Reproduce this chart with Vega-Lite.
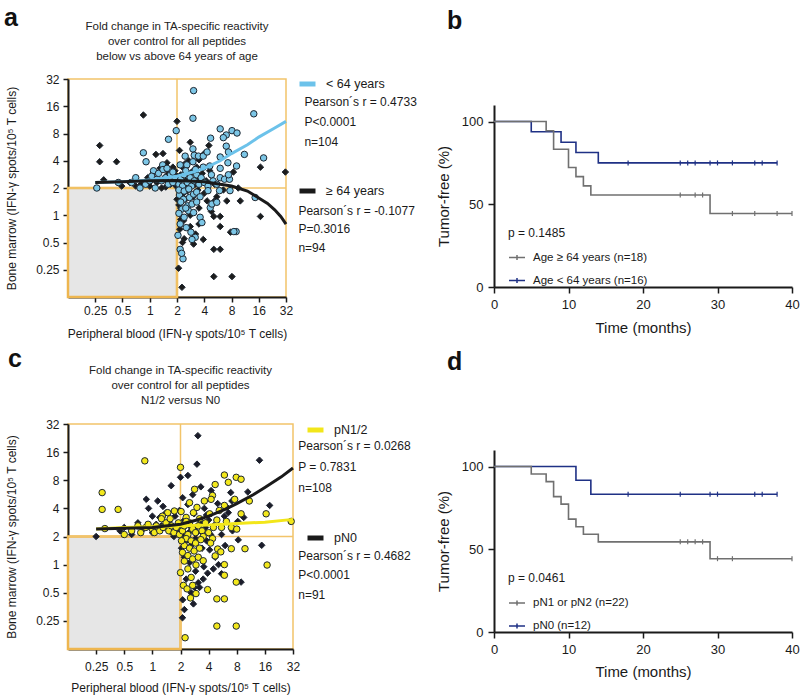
{
"$schema": "https://vega.github.io/schema/vega-lite/v6.json",
"autosize": {"type": "none"},
"padding": {"left": 68, "top": 79, "right": 732, "bottom": 618},
"background": "#ffffff",
"config": {
  "font": "Liberation Sans",
  "view": {"stroke": null},
  "axis": {"grid": false, "domainColor": "#1a1a1a", "domainWidth": 2, "tickColor": "#1a1a1a", "tickWidth": 1.5, "tickSize": 5, "labelColor": "#1a1a1a", "titleColor": "#1a1a1a", "titleFontWeight": "normal", "labelFlush": false, "labelOverlap": false, "zindex": 1},
  "title": {"fontSize": 11.5, "fontWeight": "normal", "color": "#222222", "lineHeight": 15, "anchor": "middle", "frame": "group"},
  "legend": {"labelColor": "#1a1a1a", "titleColor": "#1a1a1a", "padding": 0}
},
"datasets": {
  "aPts": [
{"g":"A","x":0.28,"y":5.9},{"g":"A","x":0.28,"y":3.9},{"g":"A","x":0.43,"y":3.9},{"g":"A","x":0.85,"y":12.8},{"g":"A","x":2.0,"y":10.9},{"g":"A","x":1.17,"y":4.7},{"g":"A","x":1.55,"y":3.8},{"g":"A","x":0.31,"y":2.46},{"g":"A","x":0.49,"y":2.1},{"g":"A","x":2.13,"y":5.2},
{"g":"A","x":2.8,"y":6.4},{"g":"A","x":4.5,"y":5.9},{"g":"A","x":8.4,"y":3.0},{"g":"A","x":16.7,"y":3.4},{"g":"A","x":31.5,"y":3.0},{"g":"A","x":10,"y":1.44},{"g":"A","x":16.7,"y":0.97},{"g":"A","x":5.1,"y":0.97},{"g":"A","x":6.0,"y":0.97},{"g":"A","x":6.0,"y":0.75},
{"g":"A","x":7.1,"y":1.44},{"g":"A","x":7.8,"y":0.65},{"g":"A","x":5.1,"y":0.42},{"g":"A","x":6.0,"y":0.42},{"g":"A","x":5.1,"y":0.21},{"g":"A","x":8.1,"y":0.21},{"g":"A","x":2.27,"y":0.16},{"g":"A","x":2.08,"y":0.26},{"g":"A","x":3.05,"y":0.48},{"g":"A","x":3.9,"y":0.54},
{"g":"A","x":3.5,"y":0.8},{"g":"A","x":4.3,"y":1.44},{"g":"A","x":5.2,"y":1.44},{"g":"A","x":2.36,"y":0.87},{"g":"A","x":3.2,"y":0.62},{"g":"A","x":0.8,"y":2.2},{"g":"A","x":1.0,"y":2.1},{"g":"A","x":1.2,"y":2.3},{"g":"A","x":1.3,"y":3.3},{"g":"A","x":1.45,"y":2.6},
{"g":"A","x":1.6,"y":2.9},{"g":"A","x":1.7,"y":2.2},{"g":"A","x":1.8,"y":3.4},{"g":"A","x":1.9,"y":2.4},{"g":"A","x":1.95,"y":2.1},{"g":"A","x":1.5,"y":2.05},{"g":"A","x":2.05,"y":2.3},{"g":"A","x":2.2,"y":2.8},{"g":"A","x":2.3,"y":3.4},{"g":"A","x":2.5,"y":2.4},
{"g":"A","x":2.7,"y":2.1},{"g":"A","x":2.9,"y":3.0},{"g":"A","x":3.2,"y":2.2},{"g":"A","x":3.4,"y":2.6},{"g":"A","x":3.8,"y":2.9},{"g":"A","x":4.2,"y":2.4},{"g":"A","x":4.6,"y":3.1},{"g":"A","x":5.2,"y":2.2},{"g":"A","x":2.1,"y":1.9},{"g":"A","x":2.3,"y":1.7},
{"g":"A","x":2.6,"y":1.85},{"g":"A","x":3.0,"y":1.6},{"g":"A","x":2.2,"y":1.2},{"g":"A","x":2.5,"y":1.5},{"g":"A","x":2.8,"y":1.0},{"g":"A","x":3.4,"y":1.9},{"g":"A","x":4.0,"y":1.75},{"g":"A","x":2.15,"y":0.7},{"g":"A","x":2.4,"y":0.55},{"g":"A","x":3.5,"y":1.2},
{"g":"A","x":1.1,"y":3.0},{"g":"A","x":0.95,"y":2.6},{"g":"A","x":3.5,"y":4.1},{"g":"A","x":4.0,"y":4.8},{"g":"A","x":2.7,"y":4.0},{"g":"A","x":1.4,"y":4.8},{"g":"A","x":0.6,"y":2.3},{"g":"A","x":0.7,"y":2.1},{"g":"A","x":1.35,"y":2.0},{"g":"A","x":2.0,"y":2.7},
{"g":"A","x":2.45,"y":3.7},{"g":"A","x":3.3,"y":3.4},{"g":"A","x":5.5,"y":1.6},{"g":"A","x":6.5,"y":1.9},{"g":"A","x":9.5,"y":2.0},{"g":"A","x":2.0,"y":1.5},{"g":"A","x":2.1,"y":1.3},{"g":"A","x":2.2,"y":0.9},{"g":"A","x":2.3,"y":0.5},{"g":"A","x":2.8,"y":0.75},
{"g":"A","x":4.8,"y":1.1},{"g":"A","x":1.9,"y":3.1},{"g":"A","x":2.6,"y":2.0},{"g":"A","x":1.15,"y":2.5},
{"g":"B","x":3.05,"y":23.8},{"g":"B","x":3.0,"y":11.8},{"g":"B","x":14.1,"y":13.2},{"g":"B","x":1.96,"y":8.6},{"g":"B","x":1.61,"y":6.9},{"g":"B","x":6.0,"y":9.0},{"g":"B","x":7.0,"y":7.7},{"g":"B","x":8.1,"y":8.6},{"g":"B","x":9.2,"y":8.1},{"g":"B","x":6.5,"y":7.2},
{"g":"B","x":4.7,"y":7.1},{"g":"B","x":7.0,"y":5.8},{"g":"B","x":7.4,"y":5.0},{"g":"B","x":6.0,"y":4.4},{"g":"B","x":7.3,"y":3.8},{"g":"B","x":6.0,"y":3.3},{"g":"B","x":9.1,"y":3.5},{"g":"B","x":11.1,"y":4.7},{"g":"B","x":18.1,"y":4.3},{"g":"B","x":3.0,"y":5.4},
{"g":"B","x":3.1,"y":4.6},{"g":"B","x":2.46,"y":4.5},{"g":"B","x":3.45,"y":4.5},{"g":"B","x":3.9,"y":4.5},{"g":"B","x":4.3,"y":5.0},{"g":"B","x":3.0,"y":3.9},{"g":"B","x":2.57,"y":3.6},{"g":"B","x":3.9,"y":3.4},{"g":"B","x":4.6,"y":3.5},{"g":"B","x":6.0,"y":2.6},
{"g":"B","x":6.7,"y":2.5},{"g":"B","x":7.6,"y":2.5},{"g":"B","x":7.4,"y":2.8},{"g":"B","x":0.85,"y":4.9},{"g":"B","x":0.91,"y":3.9},{"g":"B","x":1.39,"y":3.6},{"g":"B","x":1.1,"y":3.1},{"g":"B","x":2.17,"y":3.6},{"g":"B","x":0.26,"y":2.0},{"g":"B","x":0.45,"y":2.3},
{"g":"B","x":0.63,"y":2.3},{"g":"B","x":0.78,"y":2.0},{"g":"B","x":0.9,"y":2.2},{"g":"B","x":1.0,"y":2.4},{"g":"B","x":1.05,"y":2.7},{"g":"B","x":1.2,"y":2.5},{"g":"B","x":1.25,"y":2.9},{"g":"B","x":1.35,"y":2.4},{"g":"B","x":1.5,"y":2.6},{"g":"B","x":1.6,"y":2.2},
{"g":"B","x":1.7,"y":2.8},{"g":"B","x":1.8,"y":2.3},{"g":"B","x":1.9,"y":2.6},{"g":"B","x":1.4,"y":3.2},{"g":"B","x":0.7,"y":2.6},{"g":"B","x":1.15,"y":2.0},{"g":"B","x":1.55,"y":3.3},{"g":"B","x":1.8,"y":3.0},{"g":"B","x":2.1,"y":2.2},{"g":"B","x":2.2,"y":2.5},
{"g":"B","x":2.3,"y":2.1},{"g":"B","x":2.4,"y":2.8},{"g":"B","x":2.6,"y":2.3},{"g":"B","x":2.8,"y":2.6},{"g":"B","x":2.9,"y":2.1},{"g":"B","x":3.1,"y":2.4},{"g":"B","x":3.3,"y":2.8},{"g":"B","x":3.5,"y":2.2},{"g":"B","x":3.7,"y":2.6},{"g":"B","x":4.0,"y":2.3},
{"g":"B","x":4.4,"y":2.1},{"g":"B","x":5.0,"y":2.4},{"g":"B","x":5.5,"y":2.2},{"g":"B","x":4.8,"y":2.8},{"g":"B","x":2.5,"y":3.1},{"g":"B","x":3.2,"y":3.2},{"g":"B","x":2.13,"y":1.67},{"g":"B","x":2.36,"y":1.5},{"g":"B","x":2.75,"y":1.57},{"g":"B","x":3.05,"y":1.71},
{"g":"B","x":2.62,"y":1.27},{"g":"B","x":2.93,"y":1.33},{"g":"B","x":2.27,"y":1.17},{"g":"B","x":2.68,"y":1.12},{"g":"B","x":3.05,"y":1.07},{"g":"B","x":3.6,"y":0.95},{"g":"B","x":3.77,"y":0.83},{"g":"B","x":2.17,"y":0.8},{"g":"B","x":2.53,"y":0.73},{"g":"B","x":2.85,"y":0.65},
{"g":"B","x":3.18,"y":0.57},{"g":"B","x":2.93,"y":0.54},{"g":"B","x":2.17,"y":0.42},{"g":"B","x":2.33,"y":0.33},{"g":"B","x":4.66,"y":1.21},{"g":"B","x":4.86,"y":1.33},{"g":"B","x":5.5,"y":1.39},{"g":"B","x":9.0,"y":0.66},{"g":"B","x":8.5,"y":0.66},{"g":"B","x":14.6,"y":1.57},
{"g":"B","x":4.4,"y":1.87},{"g":"B","x":5.9,"y":1.87},{"g":"B","x":7.7,"y":1.87},{"g":"B","x":2.1,"y":1.9},{"g":"B","x":2.4,"y":1.85},{"g":"B","x":2.7,"y":1.95},{"g":"B","x":3.3,"y":1.8},{"g":"B","x":3.6,"y":1.6},{"g":"B","x":2.2,"y":1.4},{"g":"B","x":2.5,"y":1.2},
{"g":"B","x":2.1,"y":1.05},{"g":"B","x":2.4,"y":0.95},{"g":"B","x":3.3,"y":1.4},{"g":"B","x":2.05,"y":0.6},{"g":"B","x":2.25,"y":0.38}
  ],
  "aFit": [
{"g":"< 64 years","x":0.25,"y":2.3},{"g":"< 64 years","x":0.5,"y":2.35},{"g":"< 64 years","x":1,"y":2.45},{"g":"< 64 years","x":2,"y":2.7},{"g":"< 64 years","x":3,"y":3.0},{"g":"< 64 years","x":4,"y":3.3},{"g":"< 64 years","x":6,"y":4.0},{"g":"< 64 years","x":8,"y":4.8},{"g":"< 64 years","x":12,"y":6.0},{"g":"< 64 years","x":16,"y":7.3},{"g":"< 64 years","x":24,"y":9.2},{"g":"< 64 years","x":32,"y":10.9},
{"g":"≥ 64 years","x":0.25,"y":2.3},{"g":"≥ 64 years","x":0.5,"y":2.35},{"g":"≥ 64 years","x":1,"y":2.4},{"g":"≥ 64 years","x":2,"y":2.42},{"g":"≥ 64 years","x":4,"y":2.35},{"g":"≥ 64 years","x":6,"y":2.2},{"g":"≥ 64 years","x":8,"y":2.1},{"g":"≥ 64 years","x":12,"y":1.85},{"g":"≥ 64 years","x":16,"y":1.55},{"g":"≥ 64 years","x":20,"y":1.35},{"g":"≥ 64 years","x":24,"y":1.15},{"g":"≥ 64 years","x":28,"y":0.97},{"g":"≥ 64 years","x":32,"y":0.8}
  ],
  "cPts": [
{"g":"N0","x":3.07,"y":24},{"g":"N0","x":3.0,"y":11.9},{"g":"N0","x":14.0,"y":13.1},{"g":"N0","x":2.0,"y":8.6},{"g":"N0","x":1.59,"y":7.0},{"g":"N0","x":0.86,"y":5.0},{"g":"N0","x":1.14,"y":4.8},{"g":"N0","x":0.91,"y":4.0},{"g":"N0","x":2.11,"y":5.2},{"g":"N0","x":4.25,"y":6.2},
{"g":"N0","x":6.9,"y":5.9},{"g":"N0","x":7.1,"y":4.8},{"g":"N0","x":5.9,"y":3.3},{"g":"N0","x":8.2,"y":2.9},{"g":"N0","x":18,"y":4.3},{"g":"N0","x":0.5,"y":2.5},{"g":"N0","x":0.25,"y":2.0},{"g":"N0","x":8.3,"y":1.84},{"g":"N0","x":14.8,"y":1.61},{"g":"N0","x":4.1,"y":1.44},
{"g":"N0","x":3.55,"y":0.95},{"g":"N0","x":3.9,"y":0.81},{"g":"N0","x":5.1,"y":1.0},{"g":"N0","x":8.9,"y":0.65},{"g":"N0","x":3.1,"y":0.64},{"g":"N0","x":2.82,"y":0.57},{"g":"N0","x":3.2,"y":0.57},{"g":"N0","x":2.11,"y":0.42},{"g":"N0","x":2.2,"y":0.33},{"g":"N0","x":2.1,"y":0.27},
{"g":"N0","x":0.45,"y":2.3},{"g":"N0","x":0.6,"y":2.1},{"g":"N0","x":0.8,"y":2.4},{"g":"N0","x":1.0,"y":2.2},{"g":"N0","x":1.1,"y":2.7},{"g":"N0","x":1.2,"y":3.2},{"g":"N0","x":1.35,"y":2.5},{"g":"N0","x":1.5,"y":2.9},{"g":"N0","x":1.6,"y":2.2},{"g":"N0","x":1.75,"y":3.3},
{"g":"N0","x":1.85,"y":2.6},{"g":"N0","x":1.95,"y":3.8},{"g":"N0","x":2.05,"y":2.4},{"g":"N0","x":2.2,"y":3.0},{"g":"N0","x":2.4,"y":4.4},{"g":"N0","x":2.6,"y":2.5},{"g":"N0","x":2.8,"y":3.5},{"g":"N0","x":3.0,"y":2.2},{"g":"N0","x":3.3,"y":2.8},{"g":"N0","x":3.6,"y":4.0},
{"g":"N0","x":4.0,"y":3.0},{"g":"N0","x":4.5,"y":2.6},{"g":"N0","x":5.0,"y":4.5},{"g":"N0","x":5.5,"y":2.1},{"g":"N0","x":6.5,"y":3.6},{"g":"N0","x":2.3,"y":1.8},{"g":"N0","x":2.6,"y":1.6},{"g":"N0","x":2.9,"y":1.9},{"g":"N0","x":3.4,"y":1.5},{"g":"N0","x":2.2,"y":1.2},
{"g":"N0","x":2.5,"y":1.05},{"g":"N0","x":2.9,"y":0.85},{"g":"N0","x":2.3,"y":0.7},{"g":"N0","x":2.6,"y":0.5},{"g":"N0","x":4.5,"y":0.9},{"g":"N0","x":3.8,"y":1.8},{"g":"N0","x":2.05,"y":1.5},{"g":"N0","x":1.4,"y":3.6},{"g":"N0","x":1.0,"y":3.3},{"g":"N0","x":0.7,"y":2.8},
{"g":"N0","x":1.3,"y":4.2},{"g":"N0","x":2.7,"y":5.6},{"g":"N0","x":3.3,"y":6.8},{"g":"N0","x":4.7,"y":1.2},{"g":"N0","x":6.0,"y":1.6},{"g":"N0","x":7.2,"y":2.3},{"g":"N0","x":9.5,"y":3.2},{"g":"N0","x":2.15,"y":2.0},{"g":"N0","x":2.45,"y":2.2},{"g":"N0","x":3.7,"y":2.5},
{"g":"N0","x":4.2,"y":2.1},{"g":"N0","x":1.7,"y":2.0},{"g":"N0","x":1.9,"y":2.3},{"g":"N0","x":2.75,"y":0.38},{"g":"N0","x":3.5,"y":0.7},{"g":"N0","x":5.5,"y":0.8},{"g":"N0","x":6.3,"y":4.1},{"g":"N0","x":10.5,"y":6.0},{"g":"N0","x":2.4,"y":9.0},{"g":"N0","x":3.8,"y":3.4},
{"g":"N0","x":1.25,"y":2.6},
{"g":"N1","x":0.83,"y":12.9},{"g":"N1","x":2.0,"y":11},{"g":"N1","x":5.9,"y":9.1},{"g":"N1","x":6.5,"y":7.6},{"g":"N1","x":7.9,"y":8.6},{"g":"N1","x":8.9,"y":8.2},{"g":"N1","x":4.7,"y":7.2},{"g":"N1","x":2.83,"y":6.4},{"g":"N1","x":4.4,"y":5.5},{"g":"N1","x":2.5,"y":4.6},
{"g":"N1","x":3.6,"y":4.8},{"g":"N1","x":4.25,"y":5.0},{"g":"N1","x":5.9,"y":4.3},{"g":"N1","x":7.6,"y":5.0},{"g":"N1","x":10.9,"y":4.8},{"g":"N1","x":16.5,"y":3.5},{"g":"N1","x":30.6,"y":2.9},{"g":"N1","x":8.9,"y":3.5},{"g":"N1","x":4.1,"y":3.5},{"g":"N1","x":2.75,"y":3.6},
{"g":"N1","x":2.03,"y":3.7},{"g":"N1","x":1.72,"y":3.75},{"g":"N1","x":1.46,"y":3.6},{"g":"N1","x":1.28,"y":3.3},{"g":"N1","x":7.0,"y":2.5},{"g":"N1","x":0.29,"y":5.9},{"g":"N1","x":0.29,"y":3.9},{"g":"N1","x":0.43,"y":3.9},{"g":"N1","x":0.31,"y":2.43},{"g":"N1","x":2.3,"y":3.2},
{"g":"N1","x":3.2,"y":3.1},{"g":"N1","x":4.9,"y":3.0},{"g":"N1","x":6.2,"y":2.9},{"g":"N1","x":5.5,"y":2.5},{"g":"N1","x":8.0,"y":2.4},{"g":"N1","x":3.0,"y":4.1},{"g":"N1","x":5.2,"y":3.8},{"g":"N1","x":0.5,"y":2.1},{"g":"N1","x":0.6,"y":2.3},{"g":"N1","x":0.75,"y":2.2},
{"g":"N1","x":0.85,"y":2.5},{"g":"N1","x":0.9,"y":2.7},{"g":"N1","x":1.0,"y":2.4},{"g":"N1","x":1.05,"y":2.2},{"g":"N1","x":1.1,"y":2.6},{"g":"N1","x":1.2,"y":2.3},{"g":"N1","x":1.3,"y":2.5},{"g":"N1","x":1.4,"y":2.8},{"g":"N1","x":1.5,"y":2.3},{"g":"N1","x":1.6,"y":2.6},
{"g":"N1","x":1.7,"y":2.2},{"g":"N1","x":1.8,"y":2.5},{"g":"N1","x":1.9,"y":2.8},{"g":"N1","x":1.95,"y":2.1},{"g":"N1","x":1.25,"y":3.1},{"g":"N1","x":1.55,"y":3.1},{"g":"N1","x":0.7,"y":2.6},{"g":"N1","x":2.1,"y":2.3},{"g":"N1","x":2.2,"y":2.6},{"g":"N1","x":2.4,"y":2.1},
{"g":"N1","x":2.5,"y":2.8},{"g":"N1","x":2.7,"y":2.4},{"g":"N1","x":2.9,"y":2.2},{"g":"N1","x":3.1,"y":2.6},{"g":"N1","x":3.4,"y":2.3},{"g":"N1","x":3.7,"y":2.8},{"g":"N1","x":4.0,"y":2.2},{"g":"N1","x":4.5,"y":2.5},{"g":"N1","x":2.3,"y":2.9},{"g":"N1","x":3.5,"y":2.0},
{"g":"N1","x":4.4,"y":1.9},{"g":"N1","x":7.0,"y":1.48},{"g":"N1","x":9.8,"y":1.48},{"g":"N1","x":16.9,"y":0.99},{"g":"N1","x":5.0,"y":1.47},{"g":"N1","x":5.4,"y":1.37},{"g":"N1","x":4.7,"y":1.24},{"g":"N1","x":5.9,"y":1.0},{"g":"N1","x":5.9,"y":0.77},{"g":"N1","x":7.9,"y":0.65},
{"g":"N1","x":3.9,"y":0.54},{"g":"N1","x":4.9,"y":0.43},{"g":"N1","x":5.9,"y":0.43},{"g":"N1","x":4.9,"y":0.22},{"g":"N1","x":7.9,"y":0.22},{"g":"N1","x":2.24,"y":0.165},{"g":"N1","x":2.56,"y":0.44},{"g":"N1","x":2.93,"y":0.49},{"g":"N1","x":2.6,"y":0.73},{"g":"N1","x":2.4,"y":0.9},
{"g":"N1","x":2.0,"y":0.82},{"g":"N1","x":2.2,"y":1.09},{"g":"N1","x":2.93,"y":0.99},{"g":"N1","x":2.3,"y":1.9},{"g":"N1","x":2.6,"y":1.8},{"g":"N1","x":2.9,"y":1.7},{"g":"N1","x":3.3,"y":1.85},{"g":"N1","x":2.2,"y":1.6},{"g":"N1","x":2.5,"y":1.5},{"g":"N1","x":2.8,"y":1.4},
{"g":"N1","x":3.2,"y":1.5},{"g":"N1","x":2.1,"y":1.35},{"g":"N1","x":2.4,"y":1.25},{"g":"N1","x":2.7,"y":1.15},{"g":"N1","x":3.1,"y":1.2},{"g":"N1","x":2.15,"y":0.6},{"g":"N1","x":2.35,"y":0.55},{"g":"N1","x":2.7,"y":0.6},{"g":"N1","x":3.5,"y":1.1},{"g":"N1","x":2.05,"y":1.8},
{"g":"N1","x":4.2,"y":1.7}
  ],
  "cFit": [
{"g":"pN1/2","x":0.25,"y":2.4},{"g":"pN1/2","x":0.5,"y":2.5},{"g":"pN1/2","x":1,"y":2.55},{"g":"pN1/2","x":2,"y":2.6},{"g":"pN1/2","x":4,"y":2.65},{"g":"pN1/2","x":8,"y":2.75},{"g":"pN1/2","x":16,"y":2.85},{"g":"pN1/2","x":32,"y":3.05},
{"g":"pN0","x":0.25,"y":2.4},{"g":"pN0","x":0.5,"y":2.45},{"g":"pN0","x":1,"y":2.5},{"g":"pN0","x":2,"y":2.7},{"g":"pN0","x":3,"y":3.0},{"g":"pN0","x":4,"y":3.3},{"g":"pN0","x":6,"y":3.9},{"g":"pN0","x":8,"y":4.5},{"g":"pN0","x":12,"y":5.6},{"g":"pN0","x":16,"y":6.7},{"g":"pN0","x":24,"y":8.7},{"g":"pN0","x":32,"y":10.8}
  ],
  "bKM": [
{"g":"Age < 64 years (n=16)","t":0,"s":100},{"g":"Age < 64 years (n=16)","t":5,"s":93.8},{"g":"Age < 64 years (n=16)","t":9,"s":87.5},{"g":"Age < 64 years (n=16)","t":11,"s":81.3},{"g":"Age < 64 years (n=16)","t":14,"s":75},{"g":"Age < 64 years (n=16)","t":38,"s":75},
{"g":"Age ≥ 64 years (n=18)","t":0,"s":100},{"g":"Age ≥ 64 years (n=18)","t":7,"s":94.4},{"g":"Age ≥ 64 years (n=18)","t":8,"s":83.3},{"g":"Age ≥ 64 years (n=18)","t":10,"s":72.2},{"g":"Age ≥ 64 years (n=18)","t":11,"s":66.7},{"g":"Age ≥ 64 years (n=18)","t":12,"s":61.1},{"g":"Age ≥ 64 years (n=18)","t":13,"s":55.6},{"g":"Age ≥ 64 years (n=18)","t":29,"s":44.4},{"g":"Age ≥ 64 years (n=18)","t":40,"s":44.4}
  ],
  "bCens": [
{"g":"Age < 64 years (n=16)","t":18,"s":75},{"g":"Age < 64 years (n=16)","t":25,"s":75},{"g":"Age < 64 years (n=16)","t":26,"s":75},{"g":"Age < 64 years (n=16)","t":27,"s":75},{"g":"Age < 64 years (n=16)","t":29,"s":75},{"g":"Age < 64 years (n=16)","t":30,"s":75},{"g":"Age < 64 years (n=16)","t":32,"s":75},{"g":"Age < 64 years (n=16)","t":35,"s":75},{"g":"Age < 64 years (n=16)","t":36,"s":75},{"g":"Age < 64 years (n=16)","t":38,"s":75},
{"g":"Age ≥ 64 years (n=18)","t":25,"s":55.6},{"g":"Age ≥ 64 years (n=18)","t":27,"s":55.6},{"g":"Age ≥ 64 years (n=18)","t":28,"s":55.6},{"g":"Age ≥ 64 years (n=18)","t":32,"s":44.4},{"g":"Age ≥ 64 years (n=18)","t":35,"s":44.4},{"g":"Age ≥ 64 years (n=18)","t":38,"s":44.4},{"g":"Age ≥ 64 years (n=18)","t":40,"s":44.4}
  ],
  "dKM": [
{"g":"pN0 (n=12)","t":0,"s":100},{"g":"pN0 (n=12)","t":11,"s":91.7},{"g":"pN0 (n=12)","t":13,"s":83.3},{"g":"pN0 (n=12)","t":38,"s":83.3},
{"g":"pN1 or pN2 (n=22)","t":0,"s":100},{"g":"pN1 or pN2 (n=22)","t":5,"s":95.5},{"g":"pN1 or pN2 (n=22)","t":7,"s":90.9},{"g":"pN1 or pN2 (n=22)","t":8,"s":81.8},{"g":"pN1 or pN2 (n=22)","t":9,"s":77.3},{"g":"pN1 or pN2 (n=22)","t":10,"s":68.2},{"g":"pN1 or pN2 (n=22)","t":11,"s":63.6},{"g":"pN1 or pN2 (n=22)","t":12,"s":59.1},{"g":"pN1 or pN2 (n=22)","t":14,"s":54.5},{"g":"pN1 or pN2 (n=22)","t":29,"s":44.3},{"g":"pN1 or pN2 (n=22)","t":40,"s":44.3}
  ],
  "dCens": [
{"g":"pN0 (n=12)","t":18,"s":83.3},{"g":"pN0 (n=12)","t":25,"s":83.3},{"g":"pN0 (n=12)","t":29,"s":83.3},{"g":"pN0 (n=12)","t":30,"s":83.3},{"g":"pN0 (n=12)","t":35,"s":83.3},{"g":"pN0 (n=12)","t":36,"s":83.3},{"g":"pN0 (n=12)","t":38,"s":83.3},
{"g":"pN1 or pN2 (n=22)","t":25,"s":54.5},{"g":"pN1 or pN2 (n=22)","t":26,"s":54.5},{"g":"pN1 or pN2 (n=22)","t":27,"s":54.5},{"g":"pN1 or pN2 (n=22)","t":28,"s":54.5},{"g":"pN1 or pN2 (n=22)","t":30,"s":44.3},{"g":"pN1 or pN2 (n=22)","t":32,"s":44.3},{"g":"pN1 or pN2 (n=22)","t":40,"s":44.3}
  ]
},
"bounds": "flush",
"columns": 2,
"spacing": {"row": 127, "column": 201},
"resolve": {"scale": {"stroke": "independent", "fill": "independent", "shape": "independent"}, "legend": {"stroke": "independent", "fill": "independent", "shape": "independent"}},
"concat": [
  {"width": 218, "height": 218,
   "view": {"stroke": "#f2c46a", "strokeWidth": 1.5},
   "title": {"text": ["Fold change in TA-specific reactivity", "over control for all peptides", "below vs above 64 years of age"], "offset": -57},
   "layer": [
    {"data": {"values": [{}]}, "mark": {"type": "rect", "fill": "#e6e6e6", "stroke": "#eeb64f", "strokeWidth": 2.5},
     "encoding": {
      "x": {"datum": 0.125, "type": "quantitative", "scale": {"type": "log", "base": 2, "domain": [0.125, 32], "nice": false}, "axis": {"values": [0.25, 0.5, 1, 2, 4, 8, 16, 32], "format": "~g", "title": "Peripheral blood (IFN-γ spots/10⁵ T cells)", "labelFontSize": 12, "titleFontSize": 12, "labelPadding": 3, "titlePadding": 12}},
      "x2": {"datum": 2},
      "y": {"datum": 0.125, "type": "quantitative", "scale": {"type": "log", "base": 2, "domain": [0.125, 32], "nice": false}, "axis": {"values": [0.25, 0.5, 1, 2, 4, 8, 16, 32], "format": "~g", "title": "Bone marrow  (IFN-γ spots/10⁵ T cells)", "labelFontSize": 12, "titleFontSize": 12, "labelPadding": 4, "titlePadding": 17}},
      "y2": {"datum": 2}}},
    {"data": {"values": [{}]}, "mark": {"type": "rule", "color": "#f2c46a", "strokeWidth": 1.5},
     "encoding": {"x": {"datum": 2, "type": "quantitative", "scale": {"type": "log", "base": 2, "domain": [0.125, 32], "nice": false}}}},
    {"data": {"values": [{}]}, "mark": {"type": "rule", "color": "#f2c46a", "strokeWidth": 1.5},
     "encoding": {"y": {"datum": 2, "type": "quantitative", "scale": {"type": "log", "base": 2, "domain": [0.125, 32], "nice": false}}}},
    {"data": {"name": "aPts"}, "mark": {"type": "point", "filled": true, "stroke": "#1d2630", "strokeWidth": 1, "size": 42, "opacity": 1},
     "encoding": {
      "x": {"field": "x", "type": "quantitative", "scale": {"type": "log", "base": 2, "domain": [0.125, 32], "nice": false}},
      "y": {"field": "y", "type": "quantitative", "scale": {"type": "log", "base": 2, "domain": [0.125, 32], "nice": false}},
      "shape": {"field": "g", "type": "nominal", "scale": {"domain": ["B", "A"], "range": ["circle", "diamond"]}, "legend": null},
      "fill": {"field": "g", "type": "nominal", "scale": {"domain": ["B", "A"], "range": ["#7cc6e6", "#1c1c1c"]}, "legend": null}}},
    {"data": {"name": "aFit"}, "mark": {"type": "line", "strokeWidth": 3},
     "encoding": {
      "x": {"field": "x", "type": "quantitative", "scale": {"type": "log", "base": 2, "domain": [0.125, 32], "nice": false}},
      "y": {"field": "y", "type": "quantitative", "scale": {"type": "log", "base": 2, "domain": [0.125, 32], "nice": false}},
      "stroke": {"field": "g", "type": "nominal", "scale": {"domain": ["< 64 years", "≥ 64 years"], "range": ["#6cc2ea", "#1a1a1a"]},
        "legend": {"title": null, "orient": "none", "legendX": 229, "legendY": -5.5, "symbolType": "stroke", "symbolStrokeWidth": 5, "symbolSize": 256, "labelFontSize": 12.5, "rowPadding": 86, "labelOffset": 8}}}},
    {"data": {"values": [{}]}, "mark": {"type": "text", "align": "left", "baseline": "top", "fontSize": 12, "lineHeight": 20, "color": "#1a1a1a", "text": ["Pearson´s r = 0.4733", "P<0.0001", "n=104"]},
     "encoding": {"x": {"datum": 51.1, "type": "quantitative", "scale": {"type": "log", "base": 2, "domain": [0.125, 32], "nice": false}}, "y": {"datum": 20.4, "type": "quantitative", "scale": {"type": "log", "base": 2, "domain": [0.125, 32], "nice": false}}}},
    {"data": {"values": [{}]}, "mark": {"type": "text", "align": "left", "baseline": "top", "fontSize": 12, "lineHeight": 18.5, "color": "#1a1a1a", "text": ["Pearson´s r = -0.1077", "P=0.3016", "n=94"]},
     "encoding": {"x": {"datum": 43.9, "type": "quantitative", "scale": {"type": "log", "base": 2, "domain": [0.125, 32], "nice": false}}, "y": {"datum": 1.27, "type": "quantitative", "scale": {"type": "log", "base": 2, "domain": [0.125, 32], "nice": false}}}},
    {"data": {"values": [{}]}, "mark": {"type": "text", "align": "left", "baseline": "alphabetic", "fontSize": 25, "fontWeight": "bold", "color": "#111111", "text": "a"},
     "encoding": {"x": {"datum": 0.0245, "type": "quantitative", "scale": {"type": "log", "base": 2, "domain": [0.125, 32], "nice": false}}, "y": {"datum": 124.7, "type": "quantitative", "scale": {"type": "log", "base": 2, "domain": [0.125, 32], "nice": false}}}}
   ]},
  {"width": 298, "height": 208,
   "layer": [
    {"data": {"name": "bKM"}, "mark": {"type": "line", "interpolate": "step-after", "strokeWidth": 1.6},
     "encoding": {
      "x": {"field": "t", "type": "quantitative", "scale": {"domain": [0, 40], "nice": false}, "axis": {"values": [0, 10, 20, 30, 40], "title": "Time (months)", "titleFontSize": 15, "labelFontSize": 13, "labelPadding": 5, "titlePadding": 9, "tickSize": 6}},
      "y": {"field": "s", "type": "quantitative", "scale": {"domain": [0, 110], "range": [208, 26], "nice": false}, "axis": {"values": [0, 50, 100], "title": "Tumor-free (%)", "titleFontSize": 15, "labelFontSize": 13, "labelPadding": 5, "titlePadding": 10, "tickSize": 6}},
      "stroke": {"field": "g", "type": "nominal", "scale": {"domain": ["Age ≥ 64 years (n=18)", "Age < 64 years (n=16)"], "range": ["#707070", "#1f3185"]},
        "legend": {"title": "p = 0.1485", "titleFontWeight": "normal", "titleFontSize": 12, "orient": "none", "legendX": 14, "legendY": 148.5, "symbolType": "M-1,0H1M0,-0.3V0.3", "symbolSize": 256, "symbolStrokeWidth": 1.5, "symbolFillColor": "transparent", "labelFontSize": 11.5, "rowPadding": 8, "titlePadding": 9, "labelOffset": 7}}}},
    {"data": {"name": "bCens"}, "mark": {"type": "point", "shape": "M0,-1V1", "size": 25, "strokeWidth": 1.2, "filled": false, "opacity": 1},
     "encoding": {
      "x": {"field": "t", "type": "quantitative", "scale": {"domain": [0, 40], "nice": false}},
      "y": {"field": "s", "type": "quantitative", "scale": {"domain": [0, 110], "range": [208, 26], "nice": false}},
      "stroke": {"field": "g", "type": "nominal", "scale": {"domain": ["Age ≥ 64 years (n=18)", "Age < 64 years (n=16)"], "range": ["#707070", "#1f3185"]}}}},
    {"data": {"values": [{}]}, "mark": {"type": "text", "align": "left", "baseline": "alphabetic", "fontSize": 25, "fontWeight": "bold", "color": "#111111", "text": "b"},
     "encoding": {"x": {"datum": -6.3, "type": "quantitative", "scale": {"domain": [0, 40], "nice": false}}, "y": {"datum": 155.9, "type": "quantitative", "scale": {"domain": [0, 110], "range": [208, 26], "nice": false}}}}
   ]},
  {"width": 225, "height": 225,
   "view": {"stroke": "#f2c46a", "strokeWidth": 1.5},
   "title": {"text": ["Fold change in TA-specific reactivity", "over control for all peptides", "N1/2 versus N0"], "offset": -60},
   "layer": [
    {"data": {"values": [{}]}, "mark": {"type": "rect", "fill": "#e6e6e6", "stroke": "#eeb64f", "strokeWidth": 2.5},
     "encoding": {
      "x": {"datum": 0.125, "type": "quantitative", "scale": {"type": "log", "base": 2, "domain": [0.125, 32], "nice": false}, "axis": {"values": [0.25, 0.5, 1, 2, 4, 8, 16, 32], "format": "~g", "title": "Peripheral blood (IFN-γ spots/10⁵ T cells)", "labelFontSize": 12, "titleFontSize": 12, "labelPadding": 7, "titlePadding": 10}},
      "x2": {"datum": 2},
      "y": {"datum": 0.125, "type": "quantitative", "scale": {"type": "log", "base": 2, "domain": [0.125, 32], "nice": false}, "axis": {"values": [0.25, 0.5, 1, 2, 4, 8, 16, 32], "format": "~g", "title": "Bone marrow  (IFN-γ spots/10⁵ T cells)", "labelFontSize": 12, "titleFontSize": 12, "labelPadding": 4, "titlePadding": 17}},
      "y2": {"datum": 2}}},
    {"data": {"values": [{}]}, "mark": {"type": "rule", "color": "#f2c46a", "strokeWidth": 1.5},
     "encoding": {"x": {"datum": 2, "type": "quantitative", "scale": {"type": "log", "base": 2, "domain": [0.125, 32], "nice": false}}}},
    {"data": {"values": [{}]}, "mark": {"type": "rule", "color": "#f2c46a", "strokeWidth": 1.5},
     "encoding": {"y": {"datum": 2, "type": "quantitative", "scale": {"type": "log", "base": 2, "domain": [0.125, 32], "nice": false}}}},
    {"data": {"name": "cPts"}, "mark": {"type": "point", "filled": true, "stroke": "#1d2630", "strokeWidth": 1, "size": 42, "opacity": 1},
     "encoding": {
      "x": {"field": "x", "type": "quantitative", "scale": {"type": "log", "base": 2, "domain": [0.125, 32], "nice": false}},
      "y": {"field": "y", "type": "quantitative", "scale": {"type": "log", "base": 2, "domain": [0.125, 32], "nice": false}},
      "shape": {"field": "g", "type": "nominal", "scale": {"domain": ["N1", "N0"], "range": ["circle", "diamond"]}, "legend": null},
      "fill": {"field": "g", "type": "nominal", "scale": {"domain": ["N1", "N0"], "range": ["#f3e81c", "#1c1c2a"]}, "legend": null}}},
    {"data": {"name": "cFit"}, "mark": {"type": "line", "strokeWidth": 3},
     "encoding": {
      "x": {"field": "x", "type": "quantitative", "scale": {"type": "log", "base": 2, "domain": [0.125, 32], "nice": false}},
      "y": {"field": "y", "type": "quantitative", "scale": {"type": "log", "base": 2, "domain": [0.125, 32], "nice": false}},
      "stroke": {"field": "g", "type": "nominal", "scale": {"domain": ["pN1/2", "pN0"], "range": ["#f2e61a", "#1a1a1a"]},
        "legend": {"title": null, "orient": "none", "legendX": 237, "legendY": -4.5, "symbolType": "stroke", "symbolStrokeWidth": 5, "symbolSize": 256, "labelFontSize": 12.5, "rowPadding": 87, "labelOffset": 8}}}},
    {"data": {"values": [{}]}, "mark": {"type": "text", "align": "left", "baseline": "top", "fontSize": 12, "lineHeight": 21, "color": "#1a1a1a", "text": ["Pearson´s r = 0.0268", "P = 0.7831", "n=108"]},
     "encoding": {"x": {"datum": 36.4, "type": "quantitative", "scale": {"type": "log", "base": 2, "domain": [0.125, 32], "nice": false}}, "y": {"datum": 21.1, "type": "quantitative", "scale": {"type": "log", "base": 2, "domain": [0.125, 32], "nice": false}}}},
    {"data": {"values": [{}]}, "mark": {"type": "text", "align": "left", "baseline": "top", "fontSize": 12, "lineHeight": 19.5, "color": "#1a1a1a", "text": ["Pearson´s r = 0.4682", "P<0.0001", "n=91"]},
     "encoding": {"x": {"datum": 36.4, "type": "quantitative", "scale": {"type": "log", "base": 2, "domain": [0.125, 32], "nice": false}}, "y": {"datum": 1.4, "type": "quantitative", "scale": {"type": "log", "base": 2, "domain": [0.125, 32], "nice": false}}}},
    {"data": {"values": [{}]}, "mark": {"type": "text", "align": "left", "baseline": "alphabetic", "fontSize": 25, "fontWeight": "bold", "color": "#111111", "text": "c"},
     "encoding": {"x": {"datum": 0.0285, "type": "quantitative", "scale": {"type": "log", "base": 2, "domain": [0.125, 32], "nice": false}}, "y": {"datum": 131, "type": "quantitative", "scale": {"type": "log", "base": 2, "domain": [0.125, 32], "nice": false}}}}
   ]},
  {"width": 298, "height": 208,
   "layer": [
    {"data": {"name": "dKM"}, "mark": {"type": "line", "interpolate": "step-after", "strokeWidth": 1.6},
     "encoding": {
      "x": {"field": "t", "type": "quantitative", "scale": {"domain": [0, 40], "nice": false}, "axis": {"values": [0, 10, 20, 30, 40], "title": "Time (months)", "titleFontSize": 15, "labelFontSize": 13, "labelPadding": 5, "titlePadding": 8, "tickSize": 6}},
      "y": {"field": "s", "type": "quantitative", "scale": {"domain": [0, 110], "range": [208, 26], "nice": false}, "axis": {"values": [0, 50, 100], "title": "Tumor-free (%)", "titleFontSize": 15, "labelFontSize": 13, "labelPadding": 5, "titlePadding": 10, "tickSize": 6}},
      "stroke": {"field": "g", "type": "nominal", "scale": {"domain": ["pN1 or pN2 (n=22)", "pN0 (n=12)"], "range": ["#707070", "#1f3185"]},
        "legend": {"title": "p = 0.0461", "titleFontWeight": "normal", "titleFontSize": 12, "orient": "none", "legendX": 14, "legendY": 149, "symbolType": "M-1,0H1M0,-0.3V0.3", "symbolSize": 256, "symbolStrokeWidth": 1.5, "symbolFillColor": "transparent", "labelFontSize": 11.5, "rowPadding": 8, "titlePadding": 9, "labelOffset": 7}}}},
    {"data": {"name": "dCens"}, "mark": {"type": "point", "shape": "M0,-1V1", "size": 25, "strokeWidth": 1.2, "filled": false, "opacity": 1},
     "encoding": {
      "x": {"field": "t", "type": "quantitative", "scale": {"domain": [0, 40], "nice": false}},
      "y": {"field": "s", "type": "quantitative", "scale": {"domain": [0, 110], "range": [208, 26], "nice": false}},
      "stroke": {"field": "g", "type": "nominal", "scale": {"domain": ["pN1 or pN2 (n=22)", "pN0 (n=12)"], "range": ["#707070", "#1f3185"]}}}},
    {"data": {"values": [{}]}, "mark": {"type": "text", "align": "left", "baseline": "alphabetic", "fontSize": 25, "fontWeight": "bold", "color": "#111111", "text": "d"},
     "encoding": {"x": {"datum": -6.3, "type": "quantitative", "scale": {"domain": [0, 40], "nice": false}}, "y": {"datum": 158.4, "type": "quantitative", "scale": {"domain": [0, 110], "range": [208, 26], "nice": false}}}}
   ]}
]
}
